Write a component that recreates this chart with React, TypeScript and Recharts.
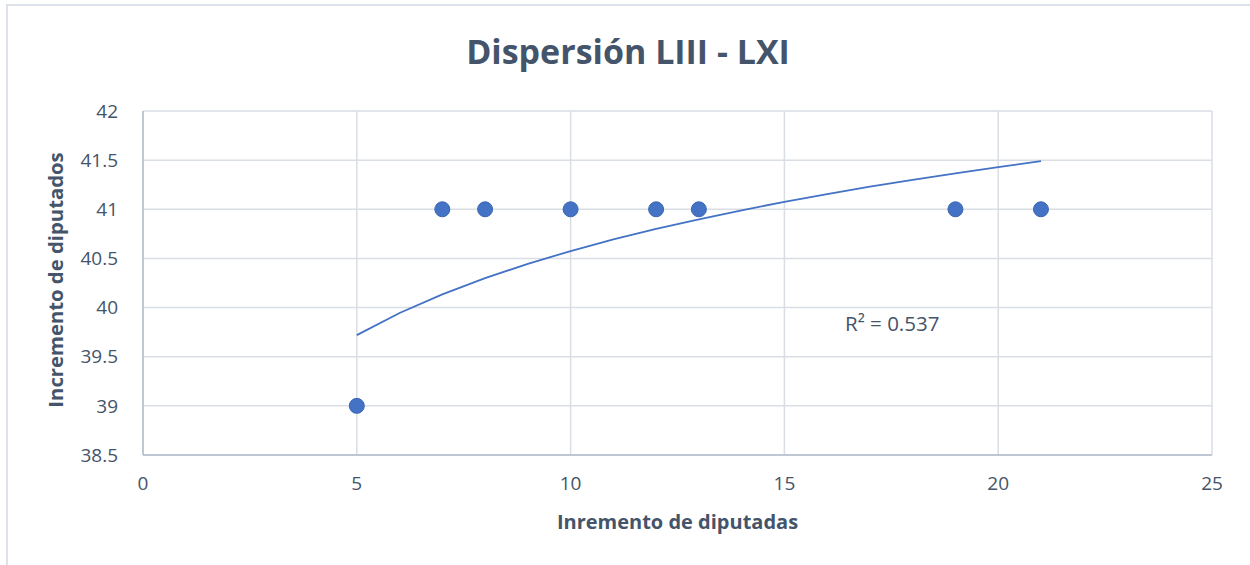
import React from 'react';
import { ScatterChart, Scatter, XAxis, YAxis, CartesianGrid, ReferenceDot } from 'recharts';

const pointX = [5, 7, 8, 10, 12, 13, 19, 21];
const pointY = [39, 41, 41, 41, 41, 41, 41, 41];

// trend line
const trendX = [5, 6, 7, 8, 9, 10, 11, 12, 13, 14, 15, 16, 17, 18, 19, 20, 21];
const trendY = [39.72, 39.945, 40.135, 40.3, 40.445, 40.575, 40.693, 40.8, 40.898, 40.99, 41.075, 41.155, 41.23, 41.3, 41.366, 41.43, 41.49];

const xTicks = [0, 5, 10, 15, 20, 25];
const yTicks = [38.5, 39, 39.5, 40, 40.5, 41, 41.5, 42];

const title = 'Dispersión LIII - LXI';
const xLabel = 'Inremento de diputadas';
const yLabel = 'Incremento de diputados';
const r2Label = 'R² = 0.537';
const r2Pos = { x: 16.3, y: 39.84 };

const points = pointX.map((x, i) => ({ x, y: pointY[i] }));
const trend = trendX.map((x, i) => ({ x, y: trendY[i] }));

const FONT = '"Open Sans", Lato, sans-serif';
const TEXT = '#44546A';
const GRID = '#d9dde4';
const AXIS = '#b4bdcc';
const BLUE = '#4472C4';

const Dot = (p: any) => (
  <circle cx={p.cx} cy={p.cy} r={7.5} fill={BLUE} stroke="#3a65b3" strokeWidth={1} />
);

export default function App() {
  return (
    <div style={{ position: 'fixed', left: 0, top: 0, width: 1250, height: 565, overflow: 'hidden', background: '#fff' }}>
      <div style={{ position: 'absolute', left: 6, top: 4, width: 1400, height: 700, border: '2px solid #dde2ea', boxSizing: 'border-box' }} />
      <div style={{ position: 'absolute', left: 0, top: 0 }}>
        <ScatterChart width={1250} height={565} margin={{ top: 111, right: 38, bottom: 80, left: 83 }}>
          <CartesianGrid stroke={GRID} strokeWidth={1.5} />
          <XAxis
            type="number"
            dataKey="x"
            domain={[0, 25]}
            ticks={xTicks}
            height={30}
            axisLine={{ stroke: AXIS, strokeWidth: 1.5 }}
            tickLine={false}
            tickSize={0}
            tickMargin={22}
            tick={{ fill: TEXT, fontSize: 19, fontFamily: FONT }}
            label={{
              content: (props: any) => {
                const vb = props.viewBox;
                return (
                  <text x={vb.x + vb.width / 2} y={vb.y + 74} textAnchor="middle" fill={TEXT} fontSize={20} fontWeight={700} fontFamily={FONT}>
                    {xLabel}
                  </text>
                );
              },
            }}
          />
          <YAxis
            type="number"
            dataKey="y"
            domain={[38.5, 42]}
            ticks={yTicks}
            width={60}
            axisLine={{ stroke: AXIS, strokeWidth: 1.5 }}
            tickLine={false}
            tickSize={0}
            tickMargin={25}
            tick={{ fill: TEXT, fontSize: 19, fontFamily: FONT }}
            label={{
              content: (props: any) => {
                const vb = props.viewBox;
                const cx = vb.x - 20;
                const cy = vb.y + vb.height / 2 - 3;
                return (
                  <text x={cx} y={cy} transform={`rotate(-90, ${cx}, ${cy})`} textAnchor="middle" fill={TEXT} fontSize={20.3} fontWeight={700} fontFamily={FONT}>
                    {yLabel}
                  </text>
                );
              },
            }}
          />
          <Scatter data={trend} line={{ stroke: BLUE, strokeWidth: 1.8 }} lineType="joint" shape={() => <g />} isAnimationActive={false} />
          <Scatter data={points} shape={Dot} isAnimationActive={false} />
          <ReferenceDot
            x={r2Pos.x}
            y={r2Pos.y}
            r={0}
            fill="none"
            stroke="none"
            label={{ value: r2Label, position: 'right', offset: 5, fill: TEXT, fontSize: 20.5, fontFamily: FONT }}
          />
        </ScatterChart>
      </div>
      <svg width={1250} height={565} style={{ position: 'absolute', left: 0, top: 0, pointerEvents: 'none' }}>
        <text x={628} y={64} textAnchor="middle" fill={TEXT} fontSize={34} fontWeight={700} fontFamily={FONT}>
          {title}
        </text>
      </svg>
    </div>
  );
}
